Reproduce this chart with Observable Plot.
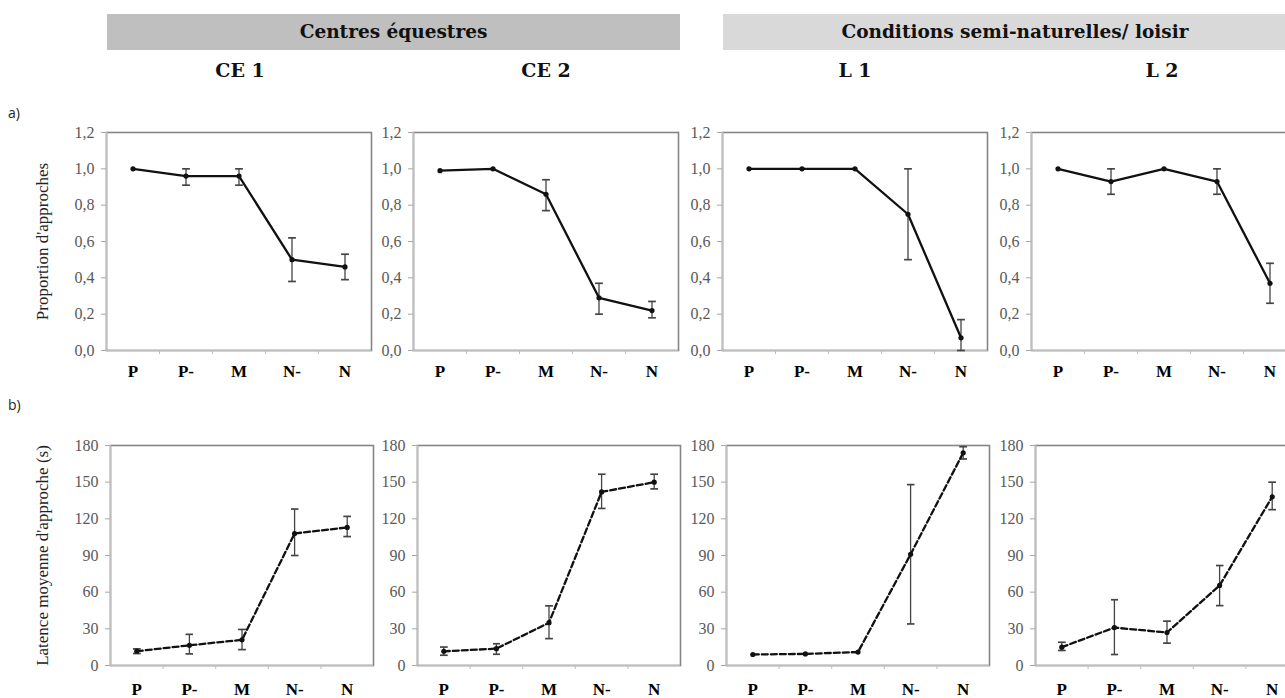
<!DOCTYPE html>
<html>
<head>
<meta charset="utf-8">
<script src="https://cdn.jsdelivr.net/npm/d3@7"></script>
<script src="https://cdn.jsdelivr.net/npm/@observablehq/plot@0.6"></script>
<style>
  body { margin: 0; background: #fff; }
  #fig { position: relative; width: 1285px; height: 698px; overflow: hidden; background: #fff; }
  .bar { position: absolute; top: 14px; height: 36px; font: bold 18.5px "DejaVu Serif"; line-height: 36px;
         text-align: center; color: #111; white-space: nowrap; }
  .title { position: absolute; top: 57px; font: bold 19px "DejaVu Serif"; line-height: 26px; color: #111;
           transform: translateX(-50%); white-space: nowrap; }
  .tag { position: absolute; left: 8px; font: 14px "Open Sans"; color: #222; }
  .panel { position: absolute; }
  .panel svg { overflow: visible; max-width: none !important; }
</style>
</head>
<body>
<div id="fig"></div>
<script>
// ---- data ----
const categories = ["P", "P-", "M", "N-", "N"];
const groups = ["Centres équestres", "Conditions semi-naturelles/ loisir"];
const panelNames = ["CE 1", "CE 2", "L 1", "L 2"];
const rowTags = ["a)", "b)"];
const yTitles = ["Proportion d'approches", "Latence moyenne d'approche (s)"];
const propTicks = [0, 0.2, 0.4, 0.6, 0.8, 1.0, 1.2];
const latTicks = [0, 30, 60, 90, 120, 150, 180];

// a) proportion of approaches (mean, lower, upper)
const propCE1 = [1.00, 0.96, 0.96, 0.50, 0.46];
const propCE1Lo = [1.00, 0.91, 0.91, 0.38, 0.39];
const propCE1Hi = [1.00, 1.00, 1.00, 0.62, 0.53];
const propCE2 = [0.99, 1.00, 0.86, 0.29, 0.22];
const propCE2Lo = [0.99, 1.00, 0.77, 0.20, 0.18];
const propCE2Hi = [0.99, 1.00, 0.94, 0.37, 0.27];
const propL1 = [1.00, 1.00, 1.00, 0.75, 0.07];
const propL1Lo = [1.00, 1.00, 1.00, 0.50, 0.00];
const propL1Hi = [1.00, 1.00, 1.00, 1.00, 0.17];
const propL2 = [1.00, 0.93, 1.00, 0.93, 0.37];
const propL2Lo = [1.00, 0.86, 1.00, 0.86, 0.26];
const propL2Hi = [1.00, 1.00, 1.00, 1.00, 0.48];

// b) mean approach latency in seconds (mean, lower, upper)
const latCE1 = [11.7, 16.5, 21, 108, 113];
const latCE1Lo = [9.8, 9.5, 13, 90, 105.5];
const latCE1Hi = [13.6, 25.5, 29.5, 128, 122];
const latCE2 = [11.6, 13.8, 35, 142, 150];
const latCE2Lo = [8.4, 9.2, 22, 128.5, 144.5];
const latCE2Hi = [15.1, 17.8, 48.8, 156.5, 156.5];
const latL1 = [9, 9.5, 11, 91, 174];
const latL1Lo = [9, 9.5, 11, 34, 169];
const latL1Hi = [9, 9.5, 11, 148, 179];
const latL2 = [15, 31, 27, 65.5, 138];
const latL2Lo = [12.3, 9, 18.3, 49, 127.5];
const latL2Hi = [19, 53.8, 36.3, 81.8, 150];

const series = {
  a: [[propCE1, propCE1Lo, propCE1Hi], [propCE2, propCE2Lo, propCE2Hi], [propL1, propL1Lo, propL1Hi], [propL2, propL2Lo, propL2Hi]],
  b: [[latCE1, latCE1Lo, latCE1Hi], [latCE2, latCE2Lo, latCE2Hi], [latL1, latL1Lo, latL1Hi], [latL2, latL2Lo, latL2Hi]]
};

// ---- layout ----
const fig = document.getElementById("fig");
function el(cls, text, css) {
  const d = document.createElement("div");
  d.className = cls; d.textContent = text; Object.assign(d.style, css); fig.appendChild(d); return d;
}
el("bar", groups[0], {left: "107px", width: "573px", background: "#bfbfbf"});
el("bar", groups[1], {left: "723px", width: "584px", background: "#d9d9d9"});
const titleX = [240, 546, 855, 1162];
panelNames.forEach((n, i) => el("title", n, {left: titleX[i] + "px"}));
el("tag", rowTags[0], {top: "103px"});
el("tag", rowTags[1], {top: "395px"});

const layout = {
  a: {frameLeft: [106, 413, 722, 1031], frameTop: 132, fw: 265, fh: 218, mb: 40, pad: 14, ticks: propTicks,
      domain: [0, 1.2], fmt: d => d.toFixed(1).replace(".", ","), dash: undefined, title: yTitles[0]},
  b: {frameLeft: [110, 417, 726, 1035], frameTop: 445, fw: 263, fh: 220, mb: 35, pad: 17, ticks: latTicks,
      domain: [0, 180], fmt: d => String(d), dash: "6,3", title: yTitles[1]}
};

function styleText(svg, label, css) {
  d3.select(svg).selectAll(`g[aria-label="${label}"] text`).each(function () {
    for (const [k, v] of Object.entries(css)) this.style.setProperty(k, v);
  });
}

function panel(row, i) {
  const L = layout[row];
  const [m, lo, hi] = series[row][i];
  const data = categories.map((c, k) => ({k: k + 1, cat: c, m: m[k], lo: lo[k], hi: hi[k]}));
  const err = data.filter(d => d.hi > d.lo);
  const ml = i === 0 ? L.frameLeft[0] : 45;
  const mt = 10;
  const lineOpts = {x: "k", y: "m", stroke: "#111", strokeWidth: 2.3};
  if (L.dash) lineOpts.strokeDasharray = L.dash;
  const marks = [
    Plot.frame({stroke: "#858585", strokeWidth: 1.6}),
    Plot.ruleY([L.domain[0]], {stroke: "#bdbdbd", strokeWidth: 1.5}),
    Plot.ruleX([0.5], {stroke: "#bdbdbd", strokeWidth: 1.5}),
    Plot.axisY({ticks: L.ticks, tickFormat: L.fmt, tickSize: 5, tickPadding: 7, label: null,
                stroke: "#a6a6a6", fill: "#595959"}),
    Plot.axisX({ticks: [1.5, 2.5, 3.5, 4.5], tickFormat: () => "", tickSize: 4, label: null, stroke: "#bdbdbd"}),
    Plot.axisX({ticks: [1, 2, 3, 4, 5], tickFormat: k => categories[k - 1], tickSize: 0, tickPadding: L.pad,
                label: null, fill: "#000"}),
    Plot.link(err, {x1: "k", x2: "k", y1: "lo", y2: "hi", stroke: "#444", strokeWidth: 1.3,
                    markerStart: "tick-x", markerEnd: "tick-x"}),
    Plot.line(data, lineOpts),
    Plot.dot(data, {x: "k", y: "m", r: 2.6, fill: "#111"})
  ];
  if (i === 0) {
    marks.push(Plot.text([L.title], {frameAnchor: "left", dx: 42 - L.frameLeft[0], rotate: -90,
      textAnchor: "middle", lineAnchor: "middle", fill: "#222"}));
  }
  const width = ml + L.fw + 2;
  const svg = Plot.plot({
    width, height: mt + L.fh + L.mb,
    marginLeft: ml, marginRight: 2, marginTop: mt, marginBottom: L.mb,
    style: {background: "none", overflow: "visible"},
    x: {domain: [0.5, 5.5], label: null},
    y: {domain: L.domain, label: null},
    marks
  });
  const serif = '"Liberation Serif", "Times New Roman", serif';
  styleText(svg, "y-axis tick label", {"font-family": serif, "font-size": "16px", "fill": "#595959"});
  styleText(svg, "x-axis tick label", {"font-family": serif, "font-size": "17px", "font-weight": "bold", "fill": "#000"});
  styleText(svg, "text", {"font-family": serif, "font-size": "17px", "fill": "#222"});
  const wrap = document.createElement("div");
  wrap.className = "panel";
  wrap.style.left = (L.frameLeft[i] - ml) + "px";
  wrap.style.top = (L.frameTop - mt) + "px";
  wrap.style.width = width + "px";
  wrap.appendChild(svg);
  fig.appendChild(wrap);
}
["a", "b"].forEach(r => [0, 1, 2, 3].forEach(i => panel(r, i)));
</script>
</body>
</html>
